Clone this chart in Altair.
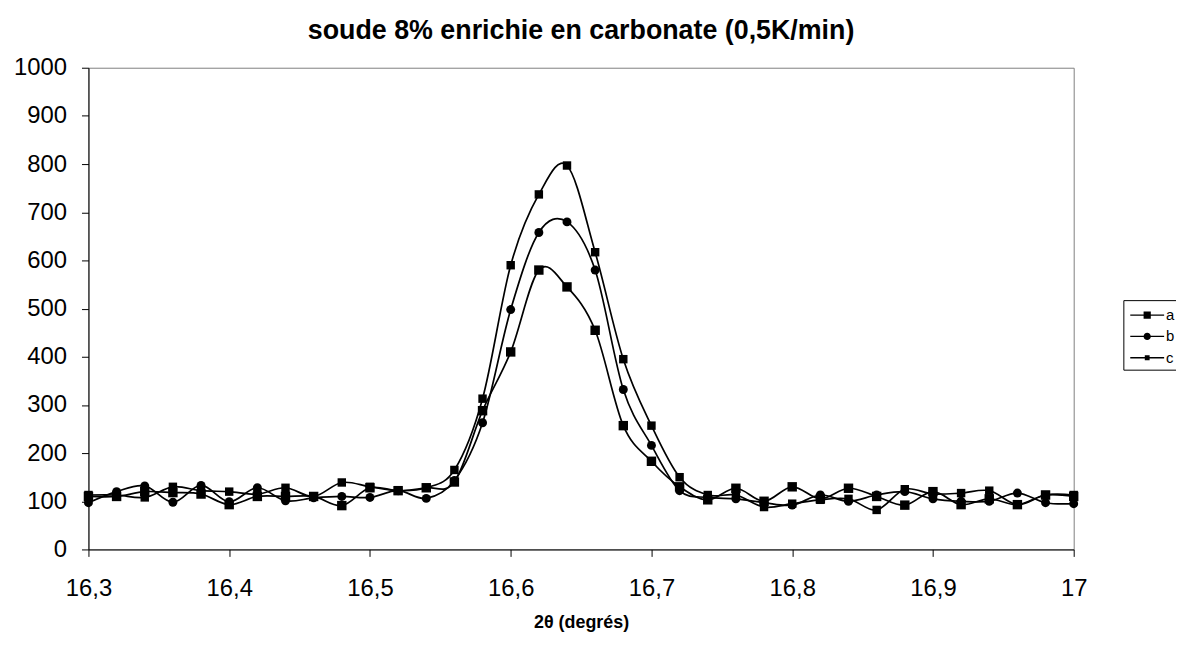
import altair as alt
import pandas as pd

two_theta = [16.30, 16.32, 16.34, 16.36, 16.38, 16.40, 16.42, 16.44, 16.46, 16.48,
             16.50, 16.52, 16.54, 16.56, 16.58, 16.60, 16.62, 16.64, 16.66, 16.68,
             16.70, 16.72, 16.74, 16.76, 16.78, 16.80, 16.82, 16.84, 16.86, 16.88,
             16.90, 16.92, 16.94, 16.96, 16.98, 17.00]

series_a = [110, 110, 120, 118, 115, 93, 110, 110, 110, 91,
            128, 122, 128, 140, 288, 410, 580, 545, 455, 257,
            183, 130, 103, 127, 100, 130, 105, 127, 110, 92,
            120, 93, 105, 93, 113, 110]
series_b = [97, 120, 132, 98, 133, 99, 128, 101, 107, 110,
            108, 122, 106, 143, 263, 498, 658, 680, 580, 332,
            216, 122, 108, 105, 97, 92, 113, 100, 113, 120,
            105, 100, 100, 117, 97, 95]
series_c = [113, 113, 108, 130, 122, 120, 115, 128, 110, 139,
            130, 122, 128, 165, 313, 590, 737, 797, 617, 395,
            257, 150, 113, 113, 88, 95, 103, 105, 82, 125,
            115, 117, 122, 93, 113, 113]

series_names = ["a", "b", "c"]
x_ticks = [16.3, 16.4, 16.5, 16.6, 16.7, 16.8, 16.9, 17.0]
y_ticks = [0, 100, 200, 300, 400, 500, 600, 700, 800, 900, 1000]

rows = []
for name, vals in zip(series_names, [series_a, series_b, series_c]):
    for x, v in zip(two_theta, vals):
        rows.append({"x": x, "y": v, "serie": name})
df = pd.DataFrame(rows)

FONT = "Liberation Sans"

x_enc = alt.X("x:Q", scale=alt.Scale(domain=[16.3, 17.0], nice=False, zero=False),
              axis=alt.Axis(values=x_ticks, title="2θ (degrés)",
                            labelExpr="replace(format(datum.value, '~g'), '.', ',')",
                            labelFontSize=24, labelPadding=20, tickSize=7,
                            titleFontSize=18, titleFontWeight="bold", titlePadding=14,
                            domainColor="black", tickColor="black", labelColor="black",
                            titleColor="black", grid=False, labelFont=FONT, titleFont=FONT,
                            labelFlush=False))
y_enc = alt.Y("y:Q", scale=alt.Scale(domain=[0, 1000], nice=False),
              axis=alt.Axis(values=y_ticks, title=None, format="d", labelFontSize=24,
                            labelPadding=15, tickSize=7, domainColor="black",
                            tickColor="black", labelColor="black", grid=False,
                            labelFont=FONT, labelFlush=False))

lines = alt.Chart(df).mark_line(interpolate="cardinal", color="black", strokeWidth=1.7).encode(
    x=x_enc, y=y_enc, detail="serie:N"
)

points = alt.Chart(df).mark_point(filled=True, color="black", opacity=1).encode(
    x=x_enc, y=y_enc,
    shape=alt.Shape("serie:N", scale=alt.Scale(domain=series_names,
                                                range=["square", "circle", "square"]),
                    legend=None),
    size=alt.Size("serie:N", scale=alt.Scale(domain=series_names, range=[90, 72, 36]),
                  legend=None),
)

LINE = "M-1.55,-0.06H1.55V0.06H-1.55Z"
leg_paths = [
    LINE + "M-0.33,-0.33H0.33V0.33H-0.33Z",
    LINE + "M0.33,0A0.33,0.33,0,1,1,-0.33,0A0.33,0.33,0,1,1,0.33,0Z",
    LINE + "M-0.22,-0.22H0.22V0.22H-0.22Z",
]

legend_layer = alt.Chart(df).mark_point(filled=True, color="black", opacity=0).encode(
    x=x_enc, y=y_enc,
    shape=alt.Shape("serie2:N", scale=alt.Scale(domain=series_names, range=leg_paths),
                    legend=alt.Legend(title=None, orient="none", legendX=1042, legendY=234,
                                      symbolSize=484, symbolOffset=9, labelOffset=8,
                                      padding=4, rowPadding=2.5,
                                      symbolFillColor="black", symbolStrokeColor="black",
                                      symbolStrokeWidth=0, symbolOpacity=1,
                                      labelFontSize=15, labelFont=FONT, labelColor="black",
                                      strokeColor="black", fillColor="white")),
).transform_calculate(serie2="datum.serie")

chart = alt.layer(lines, points, legend_layer).resolve_scale(shape="independent").properties(
    width=992, height=485,
    title=alt.TitleParams("soude 8% enrichie en carbonate (0,5K/min)", fontSize=27,
                          fontWeight="bold", font=FONT, color="black", offset=11,
                          anchor="middle"),
    autosize=alt.AutoSizeParams(type="none"),
    padding={"left": 81, "top": 58, "right": 103, "bottom": 83},
).configure_view(stroke="#808080", strokeWidth=1)

chart.save("out.html", embed_options={"renderer": "svg", "actions": False})
